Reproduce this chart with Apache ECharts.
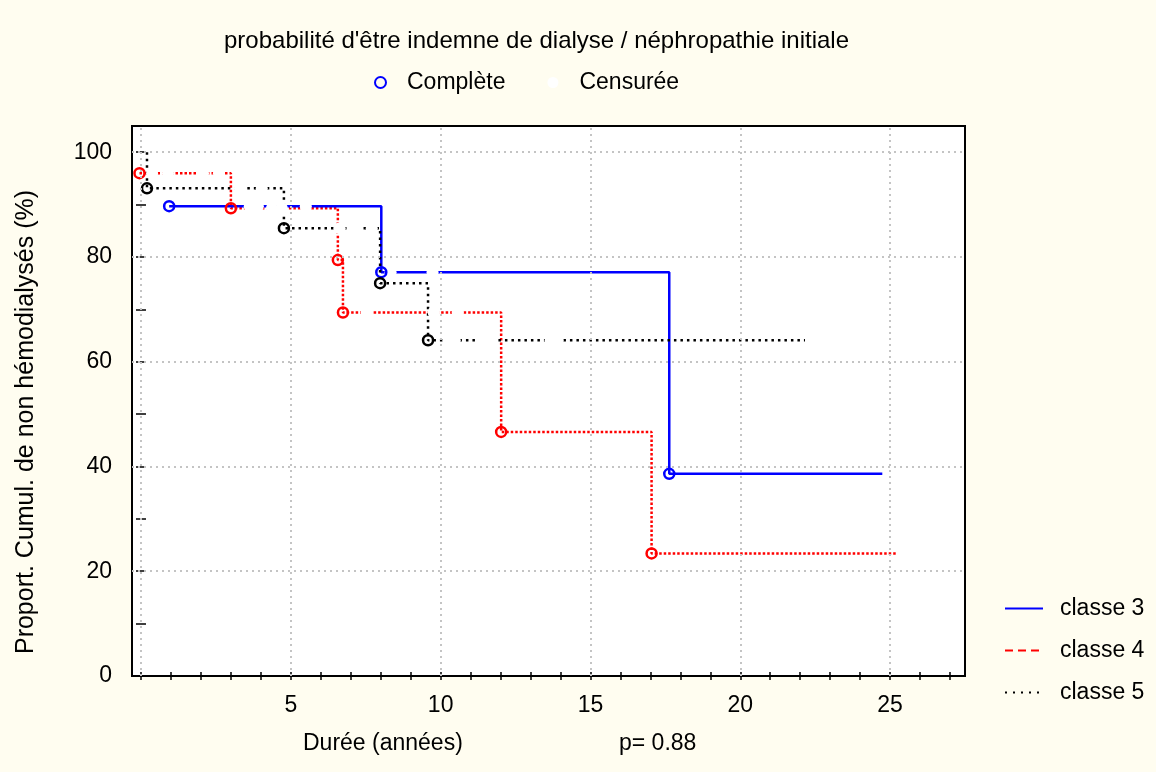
<!DOCTYPE html>
<html><head><meta charset="utf-8">
<script src="https://cdn.jsdelivr.net/npm/echarts@6/dist/echarts.min.js"></script>
<style>html,body{margin:0;padding:0;background:#fffdf0}#c{width:1156px;height:772px}</style>
</head><body><div id="c"></div>
<script>
const titleText = "probabilité d'être indemne de dialyse / néphropathie initiale";
const xName = "Durée (années)";
const pText = "p= 0.88";
const yName = "Proport. Cumul. de non hémodialysés (%)";
const xTickLabels = [5, 10, 15, 20, 25];
const xTicks = [0,1,2,3,4,5,6,7,8,9,10,11,12,13,14,15,16,17,18,19,20,21,22,23,24,25,26,27];
const yTickLabels = [0, 20, 40, 60, 80, 100];
const yTicks = [0, 10, 20, 30, 40, 50, 60, 70, 80, 90, 100];
const xGrid = [0, 5, 10, 15, 20, 25];
const yGrid = [20, 40, 60, 80, 100];

// classe 3
const c3Time = [0.94, 8.02, 17.63, 24.74];
const c3Surv = [89.7, 77.1, 38.6, 38.6];
const c3EventTime = [0.94, 8.02, 17.63];
const c3EventSurv = [89.7, 77.1, 38.6];
const c3CensTime = [3.63, 3.9, 5.5, 8.33, 9.73];
const c3CensSurv = [89.7, 89.7, 89.7, 77.1, 77.1];
// classe 4
const c4Time = [-0.05, 3.0, 6.57, 6.74, 12.02, 17.04, 25.24];
const c4Surv = [96, 89.3, 79.4, 69.4, 46.6, 23.4, 23.4];
const c4EventTime = [-0.05, 3.0, 6.57, 6.74, 12.02, 17.04];
const c4EventSurv = [96, 89.3, 79.4, 69.4, 46.6, 23.4];
const c4CensTime = [0.37, 0.9, 2.07, 2.6, 4.37, 4.7, 7.53, 9.77, 10.57];
const c4CensSurv = [96, 96, 96, 96, 89.3, 89.3, 69.4, 69.4, 69.4];
// classe 5
const c5Time = [0.2, 0.2, 4.77, 7.98, 9.58, 22.16];
const c5Surv = [100, 93.1, 85.5, 75.0, 64.1, 64.1];
const c5EventTime = [0.2, 4.77, 7.98, 9.58];
const c5EventSurv = [93.1, 85.5, 75.0, 64.1];
const c5CensTime = [3.3, 4.03, 6.63, 7.13, 7.7, 10.27, 10.47, 11.43, 11.7, 13.67, 13.9];
const c5CensSurv = [93.1, 93.1, 85.5, 85.5, 85.5, 64.1, 64.1, 64.1, 64.1, 64.1, 64.1];

const FONT = 'Liberation Sans, Arial, sans-serif';
const zip = (a, b) => a.map((v, i) => [v, b[i]]);

function stepLine(name, t, s, color, dash) {
  return { name, type: 'line', step: 'end', data: zip(t, s), symbol: 'none', showSymbol: false,
    lineStyle: { color, width: 2.5, type: dash }, itemStyle: { color }, z: 3, animation: false, silent: true };
}
function cens(t, s) {
  return { name: 'Censurée', type: 'scatter', data: zip(t, s), symbol: 'circle', symbolSize: 12,
    itemStyle: { color: '#ffffff', borderWidth: 0, opacity: 1 }, z: 3, animation: false, silent: true };
}
function events(t, s, color) {
  return { name: 'Complète', type: 'scatter', data: zip(t, s), symbol: 'circle', symbolSize: 10,
    itemStyle: { color: 'rgba(0,0,0,0)', borderColor: color, borderWidth: 2.5, opacity: 1 }, z: 4, animation: false, silent: true };
}

const chart = echarts.init(document.getElementById('c'), null, { renderer: 'canvas' });
chart.setOption({
  backgroundColor: '#fffdf0',
  animation: false,
  textStyle: { fontFamily: FONT },
  title: { text: titleText, left: 219, top: 24,
    textStyle: { fontSize: 24, fontWeight: 'normal', color: '#000', fontFamily: FONT } },
  legend: [
    { data: ['Complète', 'Censurée'], left: 369, top: 66, orient: 'horizontal', icon: 'circle',
      itemWidth: 11, itemHeight: 11, itemGap: 42, selectedMode: false,
      textStyle: { fontSize: 23, color: '#000', fontFamily: FONT, padding: [0, 0, 0, 16] } },
    { data: [
        { name: 'classe 3' },
        { name: 'classe 4', lineStyle: { type: [8, 5] } },
        { name: 'classe 5', lineStyle: { type: [2, 6] } }
      ],
      left: 999, top: 592, orient: 'vertical', itemWidth: 38, itemHeight: 18, itemGap: 19,
      selectedMode: false, itemStyle: { opacity: 0 },
      textStyle: { fontSize: 23, color: '#000', fontFamily: FONT, padding: [0, 0, 0, 12] } }
  ],
  grid: { left: 132, right: 191, top: 126, bottom: 96, show: true, backgroundColor: '#ffffff',
    borderColor: '#000', borderWidth: 2 },
  xAxis: [
    { type: 'value', min: -0.3, max: 27.5, position: 'bottom',
      axisLine: { show: false },
      axisTick: { show: true, inside: true, length: 4, customValues: xTicks, lineStyle: { color: '#000', width: 1.5 } },
      axisLabel: { customValues: xTickLabels, fontSize: 23, color: '#000', margin: 18, fontFamily: FONT },
      splitLine: { show: false } },
    { type: 'value', min: -0.3, max: 27.5, position: 'top',
      axisLine: { show: false },
      axisTick: { show: true, inside: true, length: 4, customValues: xTicks, lineStyle: { color: '#000', width: 1.5 } },
      axisLabel: { show: false }, splitLine: { show: false } }
  ],
  yAxis: [
    { type: 'value', min: 0, max: 105, position: 'left',
      name: yName, nameLocation: 'middle', nameGap: 93, nameRotate: 90,
      nameTextStyle: { fontSize: 25, color: '#000', fontFamily: FONT, padding: [0, 42, 0, 0] },
      axisLine: { show: false },
      axisTick: { show: true, inside: true, length: 5, customValues: yTicks, lineStyle: { color: '#000', width: 1.5 } },
      axisLabel: { customValues: yTickLabels, fontSize: 23, color: '#000', margin: 20, fontFamily: FONT },
      splitLine: { show: false } },
    { type: 'value', min: 0, max: 105, position: 'right',
      axisLine: { show: false },
      axisTick: { show: true, inside: true, length: 5, customValues: yTicks, lineStyle: { color: '#000', width: 1.5 } },
      axisLabel: { show: false }, splitLine: { show: false } }
  ],
  graphic: [
    { type: 'text', left: 303, top: 732, style: { text: xName, fill: '#000', font: '23px ' + FONT } },
    { type: 'text', left: 619, top: 732, style: { text: pText, fill: '#000', font: '23px ' + FONT } }
  ],
  series: [
    { name: 'grid', type: 'line', data: [], z: 1, silent: true, animation: false,
      markLine: { silent: true, symbol: ['none', 'none'], label: { show: false }, animation: false,
        lineStyle: { color: '#c4c4c4', type: [2, 4], width: 2 },
        data: xGrid.map(v => ({ xAxis: v })).concat(yGrid.map(v => ({ yAxis: v }))) } },
    stepLine('classe 4', c4Time, c4Surv, '#ff0000', [2.5, 2]),
    cens(c4CensTime, c4CensSurv),
    stepLine('classe 3', c3Time, c3Surv, '#0000ff', 'solid'),
    cens(c3CensTime, c3CensSurv),
    stepLine('classe 5', c5Time, c5Surv, '#000000', [2.5, 4]),
    cens(c5CensTime, c5CensSurv),
    events(c3EventTime, c3EventSurv, '#0000ff'),
    events(c4EventTime, c4EventSurv, '#ff0000'),
    events(c5EventTime, c5EventSurv, '#000000')
  ]
});
</script></body></html>
